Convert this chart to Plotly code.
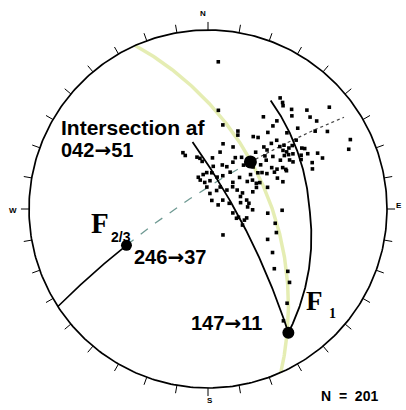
import numpy as np
import plotly.graph_objects as go

# ---- data (lower-hemisphere stereographic / Wulff net), trend & plunge in degrees ----
pole_trend = [4, 6, 33, 35, 50, 64, 67, 31, 38, 40, 42, 45, 48, 51, 54, 57, 48, 46, 38, 38,
              35, 32, 22, 10, 13, 12, 336, 337, 351, 353, 5, 22, 33, 43, 42, 45, 44, 49, 52, 54,
              53, 57, 50, 57, 58, 61, 63, 66, 66, 69, 61, 51, 50, 50, 47, 54, 57, 60, 61, 28,
              24, 18, 7, 358, 352, 343, 4, 16, 24, 31, 43, 45, 57, 62, 59, 357, 7, 25, 29, 45,
              48, 57, 69, 65, 55, 69, 66, 70, 66, 70, 64, 59, 75, 79, 77, 87, 99, 105, 91, 91,
              94, 103, 109, 150, 124, 128, 132, 132, 140, 146, 117, 102, 115, 24, 68, 353, 6, 56, 61, 82,
              107, 108, 345, 63, 51, 39, 47, 52, 60, 45, 59, 40, 21, 28, 348, 36, 62, 56, 63, 56,
              55, 53]
pole_plunge = [11, 32, 17, 18, 7, 7, 9, 28, 26, 18, 20, 14, 15, 14, 17, 13, 22, 27, 29, 33,
               38, 39, 42, 39, 49, 54, 52, 54, 58, 60, 58, 49, 52, 49, 40, 40, 36, 34, 34, 33,
               31, 31, 32, 26, 25, 25, 21, 20, 25, 26, 33, 40, 44, 48, 52, 52, 44, 42, 39, 57,
               61, 61, 63, 67, 68, 69, 72, 69, 67, 63, 67, 62, 57, 56, 48, 76, 80, 77, 74, 73,
               69, 68, 68, 66, 60, 60, 57, 51, 44, 42, 38, 79, 76, 69, 65, 65, 74, 70, 62, 45,
               53, 65, 46, 71, 43, 31, 37, 27, 21, 16, 49, 48, 66, 84, 83, 73, 67, 50, 44, 64,
               66, 71, 71, 54, 56, 55, 43, 26, 28, 33, 34, 45, 40, 54, 57, 19, 29, 38, 38, 33,
               35, 29]

F1 = (147, 11)          # fold axis F1
F23 = (246, 37)         # fold axis F2/3
INTER = (42, 51)        # intersection
girdle_end = (56, 5)    # end of dotted part of the girdle
left_arc = [(347, 48), (147, 11)]
right_arc = [(30, 20), (89, 31), (147, 11)]
n_label = "N\u00a0\u00a0=\u00a0\u00a0201"


def vec(trend, plunge):
    t, p = np.radians(trend), np.radians(plunge)
    return np.array([np.cos(p) * np.sin(t), np.cos(p) * np.cos(t), np.sin(p)])


def proj(v):
    v = np.atleast_2d(v)
    return v[:, 0] / (1 + v[:, 2]), v[:, 1] / (1 + v[:, 2])


def arc(points, n=120):
    segs = []
    for a, b in zip(points[:-1], points[1:]):
        va, vb = vec(*a), vec(*b)
        om = np.arccos(np.clip(va @ vb, -1, 1))
        t = np.linspace(0, 1, n)[:, None]
        segs.append((np.sin((1 - t) * om) * va + np.sin(t * om) * vb) / np.sin(om))
    return proj(np.vstack(segs))


def great_circle(pole):
    n = vec(*pole)
    u = np.cross(n, [0, 0, 1.0]); u /= np.linalg.norm(u)
    w = np.cross(n, u); w /= np.linalg.norm(w)
    if w[2] < 0:
        w = -w
    t = np.linspace(0, np.pi, 300)[:, None]
    return proj(np.cos(t) * u + np.sin(t) * w)


fig = go.Figure()

# plane perpendicular to F2/3 (pale yellow)
gx, gy = great_circle(F23)
fig.add_trace(go.Scatter(x=gx, y=gy, mode="lines",
                         line=dict(color="rgba(222,232,160,0.8)", width=3.5), hoverinfo="skip"))

# primitive circle
th = np.linspace(0, 2 * np.pi, 400)
fig.add_trace(go.Scatter(x=np.cos(th), y=np.sin(th), mode="lines",
                         line=dict(color="black", width=1.7), hoverinfo="skip"))
# ticks every 10 degrees
tx, ty = [], []
for az in range(0, 360, 10):
    a = np.radians(az)
    tx += [np.sin(a), 1.045 * np.sin(a), None]
    ty += [np.cos(a), 1.045 * np.cos(a), None]
fig.add_trace(go.Scatter(x=tx, y=ty, mode="lines", line=dict(color="black", width=1),
                         hoverinfo="skip"))

# girdle perpendicular to F1
s1 = ((F1[0] + 90) % 360, 0)
ax_, ay_ = arc([s1, F23])
fig.add_trace(go.Scatter(x=ax_, y=ay_, mode="lines", line=dict(color="black", width=1.6),
                         hoverinfo="skip"))
ax_, ay_ = arc([F23, INTER])
fig.add_trace(go.Scatter(x=ax_, y=ay_, mode="lines",
                         line=dict(color="#6f9a93", width=1.3, dash="dash"), hoverinfo="skip"))
ax_, ay_ = arc([INTER, girdle_end])
fig.add_trace(go.Scatter(x=ax_, y=ay_, mode="lines",
                         line=dict(color="#444444", width=1.2, dash="dot"), hoverinfo="skip"))

# the two arcs meeting at F1
for pts in (left_arc, right_arc):
    ax_, ay_ = arc(pts)
    fig.add_trace(go.Scatter(x=ax_, y=ay_, mode="lines", line=dict(color="black", width=1.8),
                             hoverinfo="skip"))

# poles
px, py = proj(np.array([vec(t, p) for t, p in zip(pole_trend, pole_plunge)]))
fig.add_trace(go.Scatter(x=px, y=py, mode="markers",
                         marker=dict(symbol="square", size=3.6, color="black", opacity=1,
                                     line=dict(width=0)), hoverinfo="skip"))

# key axes
kx, ky = proj(np.array([vec(*F1), vec(*F23), vec(*INTER)]))
fig.add_trace(go.Scatter(x=kx, y=ky, mode="markers",
                         marker=dict(size=[12, 11, 13], color="black", opacity=1,
                                     line=dict(width=0)),
                         hoverinfo="skip"))

sans = "Liberation Sans"
serif = "Liberation Serif"
ARROW = '<span style="font-family:DejaVu Sans">\u2192</span>'


def txt(x, y, s, size, family=sans, bold=True, anchor="left"):
    fig.add_annotation(x=x, y=y, text=("<b>%s</b>" % s) if bold else s, showarrow=False,
                       xanchor=anchor, yanchor="middle", xref="x", yref="y",
                       font=dict(family=family, size=size, color="black"))


txt(-0.835, 0.458, "Intersection af", 21)
txt(-0.835, 0.330, "%03d%s%d" % (INTER[0], ARROW, INTER[1]), 20)
txt(-0.665, -0.080, "F", 29, serif)
txt(-0.552, -0.155, "2/3", 14)
txt(-0.425, -0.270, "%03d%s%d" % (F23[0], ARROW, F23[1]), 20)
txt(0.538, -0.515, "F", 27, serif)
txt(0.662, -0.585, "1", 14, serif)
txt(-0.105, -0.638, "%03d%s%d" % (F1[0], ARROW, F1[1]), 20)
txt(0.62, -1.045, n_label, 14)
for (x, y, s) in [(-0.028, 1.095, "N"), (1.065, 0.022, "E"), (0.011, -1.07, "S"),
                  (-1.09, -0.011, "W")]:
    txt(x, y, s, 8, anchor="center")

fig.update_layout(width=406, height=410, margin=dict(l=0, r=0, t=0, b=0),
                  paper_bgcolor="white", plot_bgcolor="white", showlegend=False,
                  xaxis=dict(range=[-208 / 179, 198 / 179], visible=False, fixedrange=True),
                  yaxis=dict(range=[-201 / 179, 209 / 179], visible=False, fixedrange=True))
fig.write_html("out.html", config={"displayModeBar": False},
               post_script="document.body.style.margin='0';document.body.style.padding='0';")
